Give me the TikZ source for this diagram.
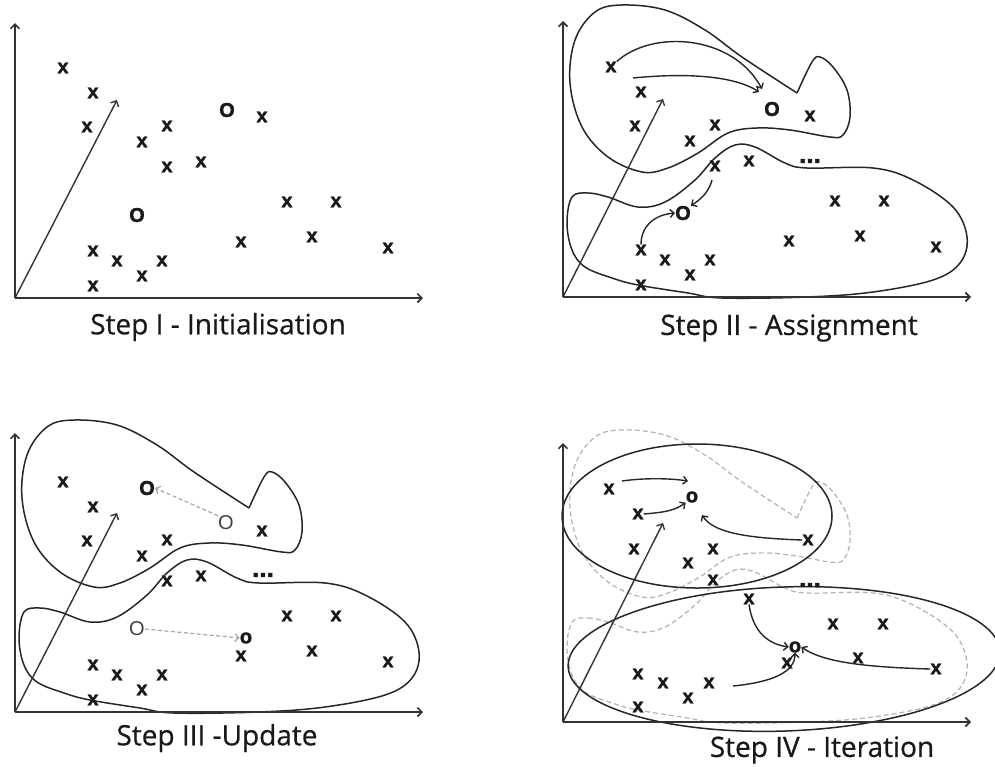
\documentclass[tikz,border=0pt]{standalone}
\usepackage{fontspec}
\setsansfont{Liberation Sans}
\newfontfamily\capfont[FakeBold=0.6]{Open Sans}
\newfontfamily\markfont[FakeBold=1.6]{Liberation Sans Bold}
\usetikzlibrary{arrows.meta}
\tikzset{
  ax/.style={line width=1.7pt, draw=black!80, -{Straight Barb[length=4.5pt,width=9pt]}},
  vec/.style={line width=1.4pt, draw=black!80, -{Straight Barb[length=4.5pt,width=9pt]}},
  xm/.style={font=\markfont\fontsize{20}{20}\selectfont, inner sep=0pt, text=black!90},
  dotsm/.style={font=\markfont\fontsize{26}{26}\selectfont, inner sep=0pt, text=black!90},
  cen/.style={font=\markfont\fontsize{20}{20}\selectfont, inner sep=0pt, text=black!90},
  oldcen/.style={font=\sffamily\fontsize{20}{20}\selectfont, inner sep=0pt, text=black!75},
  blobline/.style={line width=1.5pt, draw=black!85},
  oldblob/.style={line width=1.2pt, draw=black!30, dash pattern=on 5pt off 3pt},
  mv/.style={line width=1.4pt, draw=black!85, -{Straight Barb[length=4pt,width=8pt]}},
  ghost/.style={line width=1.2pt, draw=black!35, dash pattern=on 4pt off 2.5pt, -{Straight Barb[length=4pt,width=8pt]}},
  captext/.style={font=\capfont\fontsize{28}{28}\selectfont, inner sep=0pt, text=black!90},
}
\newcommand\myaxes[4]{%
  \coordinate (#1o) at (0,0);
  \coordinate (#1y) at (0,#2);
  \coordinate (#1x) at (408,0);
  \coordinate (#1v) at (#3,#4);
  \draw[ax] (#1o) -- (#1y);
  \draw[ax] (#1o) -- (#1x);
  \draw[vec] (#1o) -- (#1v);
}
\newcommand\mypoints[1]{%
  \foreach \px/\py [count=\i] in {48/230,78/205,72/171,247/181,152/172,127/156,152/131,186/136,272/96,321/96,297/61,226/56,373/50,78/47,102/37,147/37,127/22,78/12}
    {\node[xm] (#1x\i) at (\px,\py) {x};}
}
\newcommand\upblob[1]{%
  \draw[#1] plot[smooth, tension=0.6] coordinates {(234,204) (249,235) (257,240) (270,230) (284,207) (287,180) (280,162) (267,160) (227,167) (194,169) (165,164) (135,144) (105,129) (79,125) (45,140) (19,170) (7,214) (12,257) (32,285) (59,292) (102,287) (142,267) (179,240) (234,204)};
}
\newcommand\lowblob[1]{%
  \draw[#1] plot[smooth cycle, tension=0.6] coordinates {(9,100) (25,104) (45,100) (75,90) (102,95) (132,117) (152,139) (172,152) (192,150) (222,134) (244,129) (310,129) (350,117) (390,90) (404,60) (397,34) (370,17) (310,5) (244,0) (159,-1) (125,4) (75,12) (49,19) (22,30) (9,47) (4,74)};
}
\begin{document}
\begin{tikzpicture}[x=1pt,y=1pt]
\useasboundingbox (0,0) rectangle (995,-766);

% ---------- Step I ----------
\begin{scope}[shift={(15,-298)}]
  \myaxes{A}{275}{102}{198}
  \mypoints{A}
  \node[cen] (Ao1) at (212,188) {O};
  \node[cen] (Ao2) at (122,83) {O};
\end{scope}
\node[captext] (capA) at (218,-327) {Step I - Initialisation};

% ---------- Step II ----------
\begin{scope}[shift={(563,-297)}]
  \upblob{blobline}
  \lowblob{blobline}
  \myaxes{B}{276}{100}{198}
  \mypoints{B}
  \node[cen] (Bo1) at (209,188) {O};
  \node[cen] (Bo2) at (120,84) {O};
  \node[dotsm] (Bdots) at (247,136) {...};
  \coordinate (Bs2) at (70,219);
  \coordinate (Be1) at (199,208);
  \coordinate (Be2) at (196,205);
  \coordinate (Bs3) at (149,117);
  \draw[mv] (Bx1.north east) .. controls (90,268) and (170,262) .. (Be1);
  \draw[mv] (Bs2) .. controls (120,224) and (170,222) .. (Be2);
  \draw[mv] (Bs3) .. controls (146,105) and (138,98) .. (Bo2.north east);
  \draw[mv] (Bx14.north) .. controls (78,70) and (90,82) .. (Bo2.west);
\end{scope}
\node[captext] (capB) at (789,-328) {Step II - Assignment};

% ---------- Step III ----------
\begin{scope}[shift={(15,-712)}]
  \upblob{blobline}
  \lowblob{blobline}
  \myaxes{C}{279}{102}{199}
  \mypoints{C}
  \node[oldcen] (Cold1) at (211,189) {O};
  \node[oldcen] (Cold2) at (122,83) {O};
  \node[cen] (Cnew1) at (132,224) {O};
  \node[cen] (Cnew2) at (231,74) {o};
  \node[dotsm] (Cdots) at (248,137) {...};
  \draw[ghost] (Cold1.north west) -- (Cnew1.east);
  \draw[ghost] (Cold2.east) -- (Cnew2.west);
\end{scope}
\node[captext] (capC) at (217,-738) {Step III -Update};

% ---------- Step IV ----------
\begin{scope}[shift={(563,-722)}]
  \upblob{oldblob}
  \lowblob{oldblob}
  \draw[blobline] (134,206) ellipse [x radius=135, y radius=72];
  \draw[blobline, rotate around={2:(221,63)}] (221,63) ellipse [x radius=216, y radius=72];
  \myaxes{D}{279}{100}{199}
  \foreach \px/\py [count=\i] in {46/233,75/208,71/173,245/182,150/173,125/159,150/142,186/123,270/98,320/98,295/64,224/59,373/53,75/48,100/39,146/39,125/24,75/15}
    {\node[xm] (Dx\i) at (\px,\py) {x};}
  \node[cen] (Do1) at (129,225) {o};
  \node[cen] (Do2) at (232,75) {o};
  \node[dotsm] (Ddots) at (247,137) {...};
  \coordinate (Ds1) at (59,241);
  \coordinate (De1) at (125,241);
  \coordinate (De3) at (139,207);
  \coordinate (Ds5) at (170,36);
  \draw[mv] (Ds1) .. controls (80,244) and (105,244) .. (De1);
  \draw[mv] (Dx2.east) .. controls (105,210) and (112,212) .. (Do1.south west);
  \draw[mv] (Dx4.west) .. controls (180,184) and (150,190) .. (De3);
  \draw[mv] (Dx8.south) .. controls (190,90) and (205,78) .. (Do2.west);
  \draw[mv] (Ds5) .. controls (210,40) and (232,50) .. (Do2.south);
  \draw[mv] (Dx13.west) .. controls (300,55) and (260,60) .. (Do2.east);
\end{scope}
\node[captext] (capD) at (822,-750) {Step IV - Iteration};
\end{tikzpicture}
\end{document}
